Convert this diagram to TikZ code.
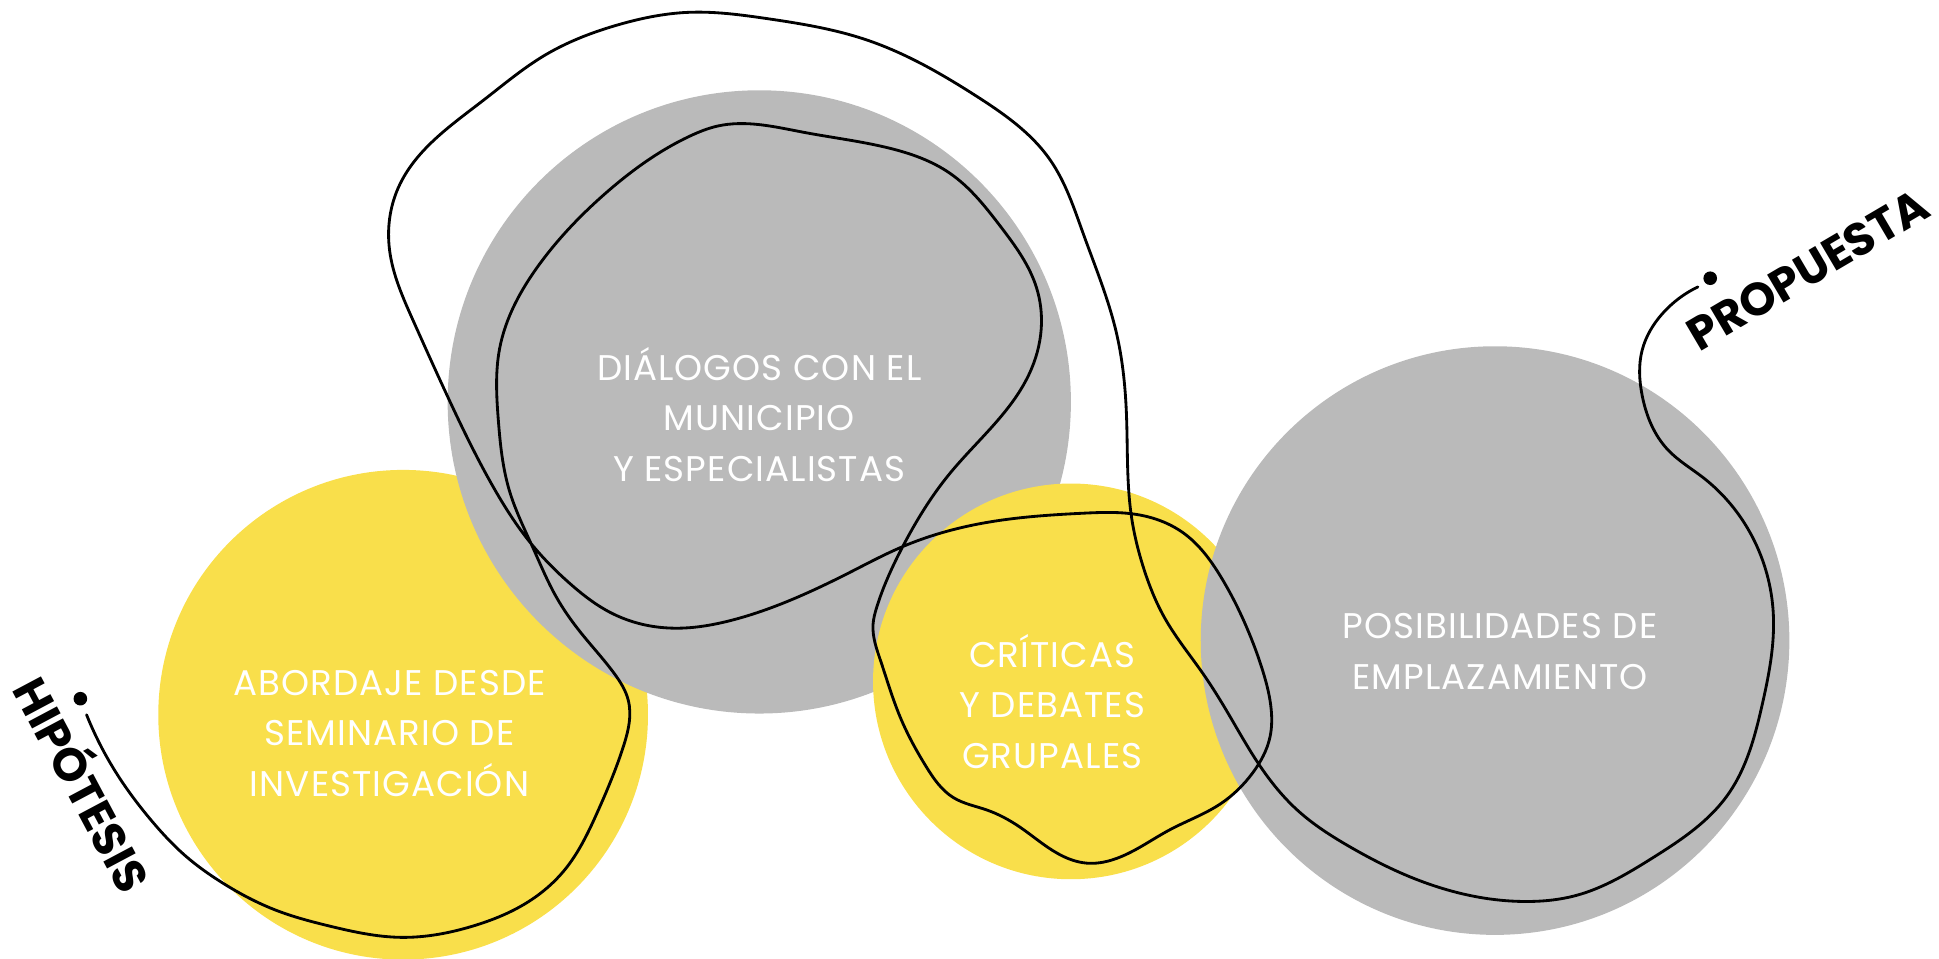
\documentclass[tikz,border=0pt]{standalone}
\usepackage{fontspec}
\usetikzlibrary{hobby}
\newfontfamily\lightf{Poppins}[LetterSpace=3]
\newfontfamily\boldf{Poppins Bold}
\definecolor{cgray}{RGB}{186,186,186}
\definecolor{cyellow}{RGB}{249,223,75}
\begin{document}
\begin{tikzpicture}[x=0.01cm,y=-0.01cm,
  lbl/.style={text=white,align=center,font=\lightf\fontsize{8.2}{11.6}\selectfont},
  tag/.style={text=black,font=\boldf\fontsize{10.6}{12}\selectfont},
  trace/.style={draw=black,line width=0.65pt,line cap=round,line join=round}]
\useasboundingbox (0,0) rectangle (1568,775);
\clip (0,0) rectangle (1568,775);
% circles
\fill[cyellow] (326,578) circle (198);
\fill[cgray] (614,325) circle (252);
\fill[cyellow] (866,551) circle (160);
\fill[cgray] (1209,518) circle (238);
% labels
\node[lbl] (dial) at (614,335) {DIÁLOGOS CON EL\\MUNICIPIO\\Y ESPECIALISTAS};
\node[lbl] (abor) at (315,593) {ABORDAJE DESDE\\SEMINARIO DE\\INVESTIGACIÓN};
\node[lbl] (crit) at (851,567) {CRÍTICAS\\Y DEBATES\\GRUPALES};
\node[lbl] (posi) at (1213,527) {POSIBILIDADES DE\\EMPLAZAMIENTO};
\node[tag,rotate=-62] (hip) at (70,633) {HIPÓTESIS};
\node[tag,rotate=30.5] (pro) at (1462,218) {PROPUESTA};
% dots
\fill (65,565) circle (5.5) coordinate (d1);
\fill (1383,225) circle (5.5) coordinate (d2);
\coordinate (s) at (70,578);
\coordinate (e) at (1373,232);
\draw[trace,use Hobby shortcut] (s) .. (94,625) .. (122,663) .. (151,693) .. (180,714) .. (223,736)
 .. (267,749) .. (324,758) .. (382,749) .. (426,730) .. (457,703) .. (483,657) .. (504,604) .. (508,566)
 .. (497,545) .. (470,512) .. (450,483) .. (431,443)
 .. (412,397) .. (403,340) .. (404,282) .. (436,214) .. (490,156) .. (558,110) .. (580,102) .. (650,107)
 .. (720,120) .. (768,140) .. (809,183) .. (838,232) .. (842,266) .. (832,303) .. (768,383) .. (730,442)
 .. (709,491) .. (706,505) .. (712,534) .. (728,580) .. (749,620) .. (771,645) .. (798,655) .. (825,669)
 .. (855,690) .. (879,698) .. (906,693) .. (946,671) .. (987,650) .. (1013,625) .. (1027,596) .. (1028,574)
 .. (1021,542) .. (1008,507) .. (987,466) .. (957,431) .. (919,416) .. (876,415)
 .. (795,423) .. (730,442) .. (687,463) .. (640,485) .. (590,502) .. (547,508) .. (520,505) .. (493,495)
 .. (461,472) .. (429,439) .. (399,394) .. (364,325) .. (334,259) .. (315,202) .. (322,152) .. (391,81)
 .. (440,45) .. (500,20) .. (556,10) .. (620,15) .. (700,32) .. (790,78) .. (849,129) .. (876,189)
 .. (903,270) .. (911,337) .. (915,418) .. (925,460) .. (942,500) .. (973,545) .. (995,580)
 .. (1016,615) .. (1049,655) .. (1092,685) .. (1133,706) .. (1235,729) .. (1275,724) .. (1336,694)
 .. (1397,643) .. (1425,570) .. (1434,496)
 .. (1417,434) .. (1377,386) .. (1349,364) .. (1328,320) .. (1328,283) .. (1344,254) .. (e);
\end{tikzpicture}
\end{document}
